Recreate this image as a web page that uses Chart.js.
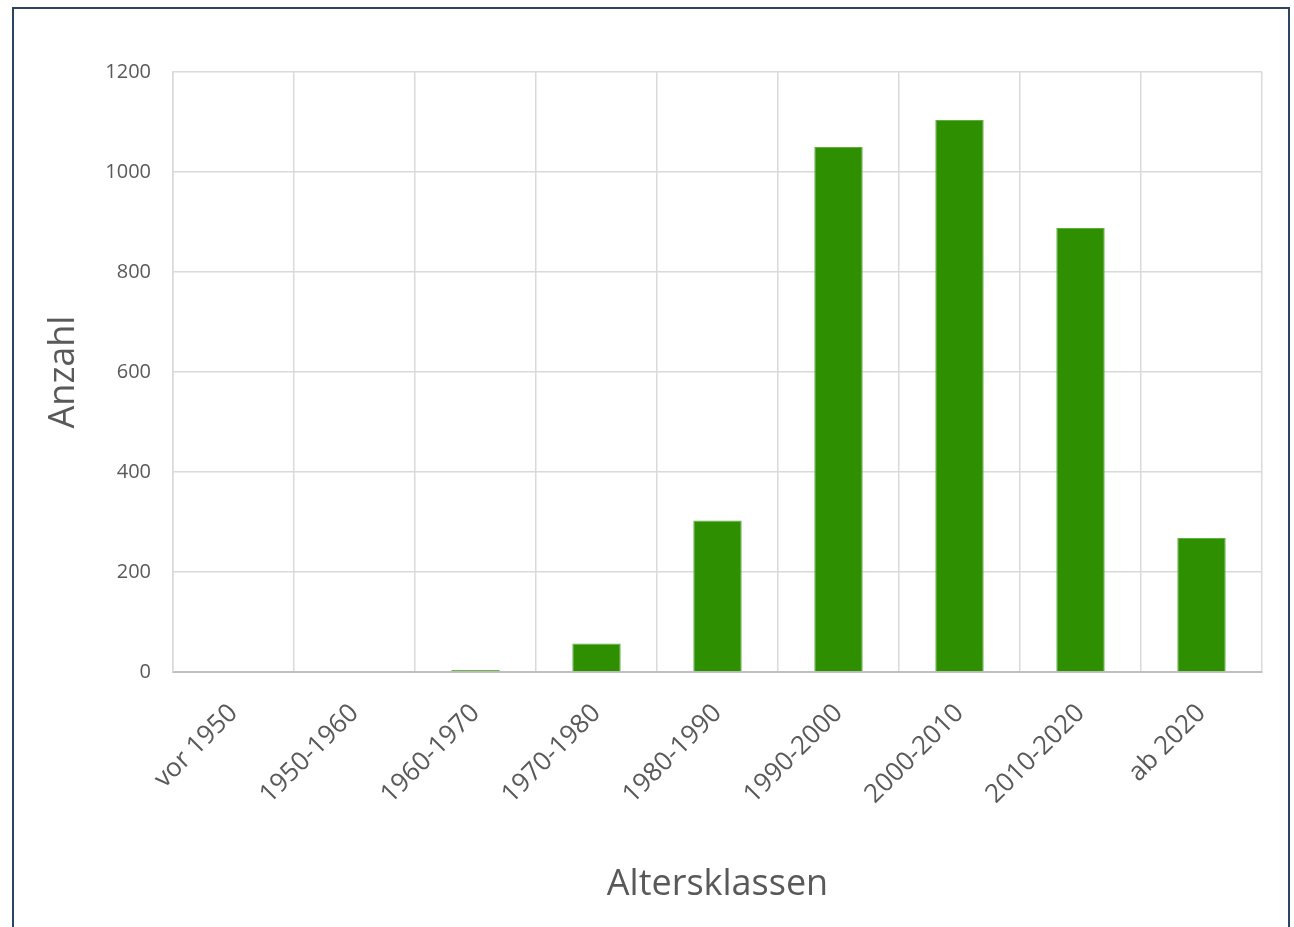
<!DOCTYPE html>
<html>
<head>
<meta charset="utf-8">
<script src="https://cdn.jsdelivr.net/npm/chart.js@4/dist/chart.umd.min.js"></script>
<style>
  body { margin: 0; background: #fff; }
  #wrap { position: relative; width: 1294px; height: 927px; overflow: hidden; }
  #frame {
    position: absolute; left: 12px; top: 7px; width: 1278px; height: 940px;
    border: 2px solid #2b4560; box-sizing: border-box; pointer-events: none;
  }
  canvas { position: absolute; left: 0; top: 0; }
</style>
</head>
<body>
<div id="wrap">
  <canvas id="chart" width="1294" height="927"></canvas>
  <div id="frame"></div>
</div>
<script>
// Altersklassen und Anzahl
const categories = ['vor 1950', '1950-1960', '1960-1970', '1970-1980', '1980-1990',
                    '1990-2000', '2000-2010', '2010-2020', 'ab 2020'];
const counts = [0, 0, 4, 57, 303, 1050, 1104, 888, 268];
const yTicks = [0, 200, 400, 600, 800, 1000, 1200];

const fontFamily = '"Open Sans", "Noto Sans", sans-serif';
const textColor = '#595959';
const gridColor = '#d9d9d9';

new Chart(document.getElementById('chart'), {
    type: 'bar',
    data: {
        labels: categories,
        datasets: [{
            data: counts,
            backgroundColor: '#2e8f00',
            borderColor: '#5fae42',
            borderWidth: 1,
            barPercentage: 0.4,
            categoryPercentage: 1.0
        }]
    },
    options: {
        responsive: false,
        animation: false,
        layout: { padding: { left: 0, right: 32, top: 72, bottom: 0 } },
        plugins: { legend: { display: false }, tooltip: { enabled: false } },
        scales: {
            x: {
                grid: { color: gridColor, lineWidth: 1.5, offset: true, drawTicks: false },
                border: { color: '#bfbfbf', width: 2 },
                ticks: {
                    color: textColor,
                    font: { family: fontFamily, size: 26 },
                    maxRotation: 45, minRotation: 45,
                    padding: 26
                },
                title: {
                    display: true, text: 'Altersklassen', color: textColor,
                    font: { family: fontFamily, size: 36 },
                    padding: { bottom: 21 }
                },
                afterFit: (s) => { s.height = 927 - 672; }
            },
            y: {
                min: 0, max: 1200,
                grid: { color: gridColor, lineWidth: 1.5, drawTicks: false },
                border: { color: gridColor, width: 1.5 },
                afterBuildTicks: (s) => { s.ticks = yTicks.map(v => ({ value: v })); },
                ticks: {
                    color: textColor,
                    font: { family: fontFamily, size: 20 },
                    padding: 22,
                    callback: (v) => String(v)
                },
                title: {
                    display: true, text: 'Anzahl', color: textColor,
                    font: { family: fontFamily, size: 36 },
                    padding: { top: 42 }
                },
                afterFit: (s) => { s.width = 173; }
            }
        }
    }
});
</script>
</body>
</html>
